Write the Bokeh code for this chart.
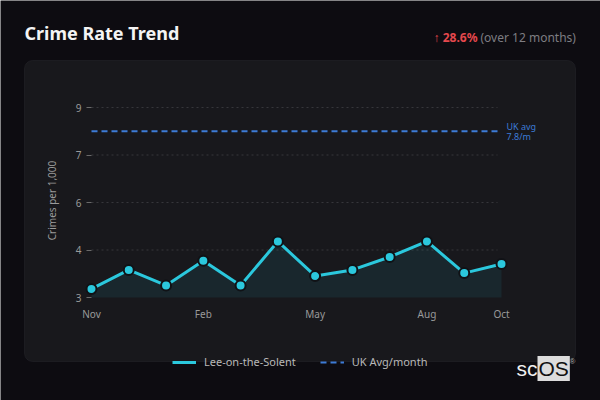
from bokeh.plotting import figure
from bokeh.models import BoxAnnotation, FixedTicker, Label, Legend, LegendItem, ColumnDataSource
from bokeh.embed import file_html
from bokeh.resources import INLINE

# data
months = ["Nov", "Dec", "Jan", "Feb", "Mar", "Apr", "May", "Jun", "Jul", "Aug", "Sep", "Oct"]
crime_rate = [3.27, 3.87, 3.38, 4.16, 3.38, 4.77, 3.68, 3.87, 4.28, 4.77, 3.77, 4.06]
uk_avg = 8.25
uk_avg_lines = ["UK avg", "7.8/m"]
y_ticks = [3, 4.5, 6, 7.5, 9]
y_tick_labels = ["3", "4", "6", "7", "9"]
x_tick_months = ["Nov", "Feb", "May", "Aug", "Oct"]
change_text = "\u2191 28.6%"
period_text = "(over 12 months)"

# colours
page_bg = "#0d0c11"
card_bg = "#18181c"
cyan = "#2bc8dd"
blue = "#3d7bd6"
grey = "#9a9a9a"

W, H = 600, 400
# pixel layout of the plot area: Nov at x=91, Oct at x=501, value 3 at y=297, 9 at y=107
PX_LEFT, PX_RIGHT = 91, 501
PX_BASE, PX_TOP9 = 297, 107
Y0 = y_ticks[0]
X_SCALE = (PX_RIGHT - PX_LEFT) / (len(months) - 1)
Y_SCALE = (PX_BASE - PX_TOP9) / (y_ticks[-1] - y_ticks[0])

# helpers: page pixel -> data units
def dx(px):
    return (px - PX_LEFT) / X_SCALE

def dy(py):
    return Y0 + (PX_BASE - py) / Y_SCALE

p = figure(width=W, height=H, output_backend="svg", toolbar_location=None,
           x_range=(dx(0), dx(W)), y_range=(dy(H), dy(0)), min_border=0,
           background_fill_color=page_bg, border_fill_color=page_bg, outline_line_color=None)

# card behind the chart
card = BoxAnnotation(left=dx(24), right=dx(575), top=dy(60), bottom=dy(361),
                     fill_color=card_bg, fill_alpha=1, line_color="#34343a", line_width=1,
                     border_radius=8, level="image")
p.add_layout(card)

xs = list(range(len(months)))
src = ColumnDataSource(dict(x=xs, y=crime_rate, base=[Y0] * len(xs)))

# dashed grid lines at the y ticks (skip the base line)
grid_y = y_ticks[1:]
p.segment(x0=[xs[0]] * len(grid_y), x1=[dx(497)] * len(grid_y), y0=grid_y, y1=grid_y,
          line_color="#36363b", line_width=1, line_dash="2 3")

p.varea(x="x", y1="base", y2="y", source=src, fill_color=cyan, fill_alpha=0.09)
avg_r = p.line(x=[xs[0], dx(497)], y=[uk_avg, uk_avg], line_color=blue, line_width=2, line_dash="6 4")
line_r = p.line(x="x", y="y", source=src, line_color=cyan, line_width=3)
p.scatter(x="x", y="y", source=src, size=10, fill_color=cyan, line_color="#101216", line_width=2)

for i, t in enumerate(uk_avg_lines):
    p.add_layout(Label(x=xs[-1], y=uk_avg, x_offset=5, y_offset=5 - 10 * i, text=t, text_color=blue,
                       text_font="Noto Sans", text_font_size="9px", text_baseline="middle"))

# axes, pinned inside the canvas
p.xaxis.fixed_location = Y0
p.yaxis.fixed_location = xs[0]
p.xaxis.ticker = FixedTicker(ticks=[months.index(m) for m in x_tick_months])
p.xaxis.major_label_overrides = {months.index(m): m for m in x_tick_months}
p.xaxis.axis_line_color = None
p.xaxis.major_tick_line_color = None
p.xaxis.minor_tick_line_color = None
p.xaxis.major_tick_out = 0
p.xaxis.major_tick_in = 0
p.xaxis.major_label_standoff = 9
p.yaxis.ticker = FixedTicker(ticks=y_ticks)
p.yaxis.major_label_overrides = dict(zip(y_ticks, y_tick_labels))
p.yaxis.axis_line_color = None
p.yaxis.major_tick_line_color = "#6a6a6a"
p.yaxis.major_tick_out = 5
p.yaxis.major_tick_in = 0
p.yaxis.minor_tick_line_color = None
p.yaxis.major_label_standoff = 5
p.yaxis.axis_label = "Crimes per 1,000"
p.yaxis.axis_label_standoff = 14
p.yaxis.axis_label_text_font_style = "normal"
p.yaxis.axis_label_text_font_size = "10px"
p.yaxis.axis_label_text_color = grey
p.yaxis.axis_label_text_font = "Noto Sans"
for ax in (p.xaxis, p.yaxis):
    ax.major_label_text_color = grey
    ax.major_label_text_font = "Noto Sans"
    ax.major_label_text_font_size = "10px"
p.xgrid.grid_line_color = None
p.ygrid.grid_line_color = None

# titles
p.add_layout(Label(x=dx(24), y=dy(44), text="Crime Rate Trend", text_color="#f4f4f4",
                   text_font="Noto Sans", text_font_size="18px", text_font_style="bold"))
p.add_layout(Label(x=dx(480), y=dy(37), text=period_text, text_color="#7d7d82", text_align="left",
                   text_baseline="middle", text_font="Noto Sans", text_font_size="12px"))
p.add_layout(Label(x=dx(477), y=dy(37), text=change_text, text_color="#e5484d", text_align="right",
                   text_baseline="middle", text_font="Noto Sans", text_font_size="12px",
                   text_font_style="bold"))

# legend
legend = Legend(items=[LegendItem(label="Lee-on-the-Solent", renderers=[line_r]),
                       LegendItem(label="UK Avg/month", renderers=[avg_r])],
                orientation="horizontal", location=(172, 31),
                background_fill_alpha=0, border_line_color=None, padding=0, margin=0,
                label_text_color="#b8b8b8", label_text_font="Noto Sans", label_text_font_size="11px",
                glyph_width=24, glyph_height=12, label_standoff=8, spacing=24, label_height=12)
p.add_layout(legend)

# logo
p.add_layout(Label(x=dx(516), y=dy(368), text="sc", text_color="#f0f0f0", text_baseline="middle",
                   text_font="Liberation Sans", text_font_size="21px"))
p.add_layout(Label(x=dx(537), y=dy(368), text="OS", text_color="#111111", text_baseline="middle",
                   text_font="Liberation Sans", text_font_size="21px",
                   background_fill_color="#dcdcdc", padding=1))
p.add_layout(Label(x=dx(569), y=dy(361), text="\u00ae", text_color="#aaaaaa", text_baseline="middle",
                   text_font="Liberation Sans", text_font_size="8px"))

open("out.html", "w").write(file_html(p, INLINE, "Crime Rate Trend"))
